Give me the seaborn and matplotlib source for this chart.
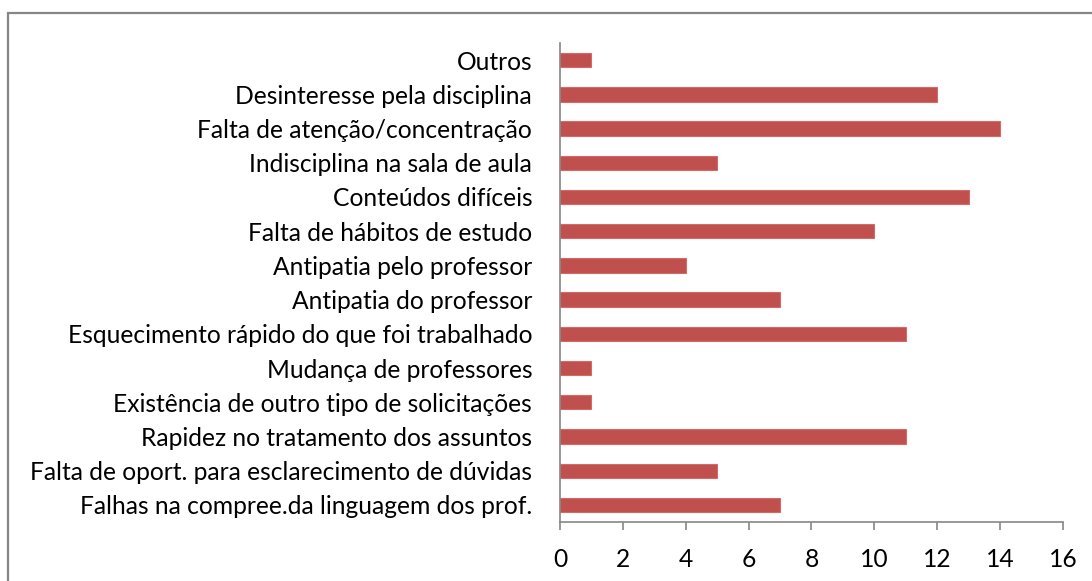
import numpy as np
import pandas as pd
import seaborn as sns
import matplotlib.pyplot as plt
from matplotlib.patches import Rectangle

motivos = [
    'Outros',
    'Desinteresse pela disciplina',
    'Falta de atenção/concentração',
    'Indisciplina na sala de aula',
    'Conteúdos difíceis',
    'Falta de hábitos de estudo',
    'Antipatia pelo professor',
    'Antipatia do professor',
    'Esquecimento rápido do que foi trabalhado',
    'Mudança de professores',
    'Existência de outro tipo de solicitações',
    'Rapidez no tratamento dos assuntos',
    'Falta de oport. para esclarecimento de dúvidas',
    'Falhas na compree.da linguagem dos prof.',
]
contagens = [1, 12, 14, 5, 13, 10, 4, 7, 11, 1, 1, 11, 5, 7]
x_ticks = [0, 2, 4, 6, 8, 10, 12, 14, 16]

df = pd.DataFrame({'motivo': motivos, 'n': contagens})

sns.set_style('white')
plt.rcParams['font.family'] = ['Lato', 'DejaVu Sans']

fig = plt.figure()
fig.set_size_inches(10.92, 5.81)
ax = fig.add_axes([0.5128, 0.1015, 0.4606, 0.8245])

sns.barplot(data=df, y='motivo', x='n', color='#C0504D', saturation=1,
            width=0.42, ax=ax, orient='h', edgecolor='#D46A67', linewidth=0.8)
ax.set(xlabel='', ylabel='')
ax.set_xlim(0, 16)
ax.set_ylim(len(motivos) - 0.5, -0.5)
ax.set_xticks(x_ticks)

grey = '#868686'
for s in ['top', 'right']:
    ax.spines[s].set_visible(False)
for s in ['left', 'bottom']:
    ax.spines[s].set_color(grey)
    ax.spines[s].set_linewidth(1.2)

ax.set_yticks(np.arange(-0.5, len(motivos), 1), minor=True)
ax.tick_params(axis='y', which='major', length=0, pad=20, labelsize=17.7,
               labelcolor='black')
ax.tick_params(axis='y', which='minor', length=6, color=grey, width=1.2, direction='out')
ax.tick_params(axis='x', which='major', length=6, color=grey, width=1.2,
               direction='out', pad=13, labelsize=17.7, bottom=True,
               labelcolor='black')

# moldura do gráfico
fig.patches.append(Rectangle((8 / 1092, -0.1), 1.2, 1 - 13 / 581 + 0.1,
                             transform=fig.transFigure, fill=False,
                             edgecolor=grey, linewidth=1.6))

plt.savefig('out.png', dpi=100)
